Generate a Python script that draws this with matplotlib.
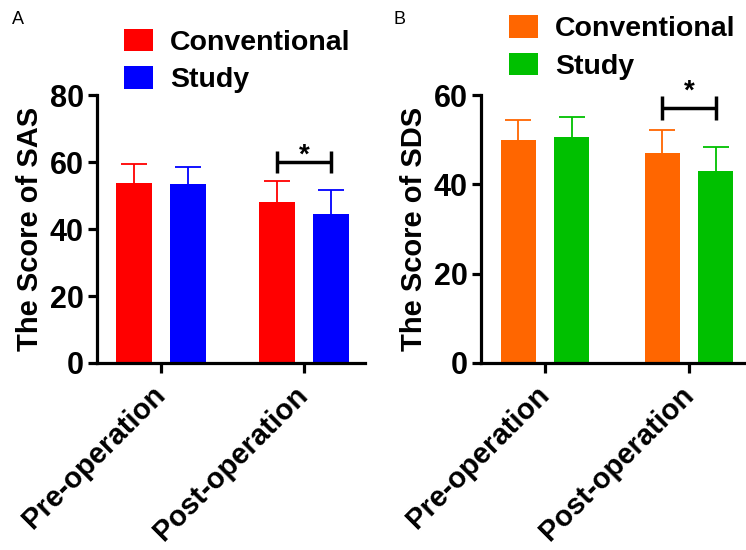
#!/usr/bin/env python3
"""SAS / SDS scores before and after operation, conventional vs study group."""

import matplotlib
matplotlib.use("Agg")
import matplotlib.pyplot as plt
import numpy as np

plt.rcParams["font.family"] = ["Liberation Sans", "DejaVu Sans"]
plt.rcParams["font.weight"] = "bold"

groups = ["Pre-operation", "Post-operation"]
series = ["Conventional", "Study"]

sas_conv = [53.7, 48.1]
sas_conv_sd = [5.7, 6.2]
sas_study = [53.4, 44.5]
sas_study_sd = [5.1, 7.1]

sds_conv = [50.0, 47.1]
sds_conv_sd = [4.5, 5.2]
sds_study = [50.6, 42.9]
sds_study_sd = [4.6, 5.5]

colors_a = ["#ff0000", "#0000ff"]
colors_b = ["#ff6600", "#00c000"]


def draw_panel(ax, means, sds, colors, ymax, ylabel, xlim, width, offset,
               bracket_y, bracket_h, star_y):
    x = np.arange(len(groups))
    for i, (m, s, c) in enumerate(zip(means, sds, colors)):
        pos = x + (i - 0.5) * 2 * offset
        top = np.array(m) + np.array(s)
        ax.bar(pos, m, width, color=c, label=series[i], zorder=2)
        # upper error bar only: stem + cap
        ax.vlines(pos, m, top, colors=c, lw=1.3, zorder=1)
        ax.plot(pos, top, linestyle="none", marker="_", markersize=19,
                markeredgewidth=1.3, color=c, zorder=1)
    # significance bracket on post-operation
    x0, x1 = 1 - offset, 1 + offset
    ax.plot([x0, x1], [bracket_y, bracket_y], color="black", lw=2.5, solid_capstyle="butt")
    for xe in (x0, x1):
        ax.plot([xe, xe], [bracket_y - bracket_h, bracket_y + bracket_h], color="black",
                lw=2.5, solid_capstyle="butt")
    ax.text(1, star_y, "*", ha="center", va="center", fontsize=20, fontweight="bold",
            clip_on=False)

    ax.set_xlim(*xlim)
    ax.set_ylim(0, ymax)
    ax.set_yticks(np.arange(0, ymax + 1, 20))
    ax.set_xticks(x)
    ax.set_xticklabels(groups, rotation=45, ha="right", va="center",
                       rotation_mode="anchor", fontsize=21, fontweight="bold")
    ax.set_ylabel(ylabel, fontsize=21, fontweight="bold", labelpad=4)
    for side in ("top", "right"):
        ax.spines[side].set_visible(False)
    for side in ("left", "bottom"):
        ax.spines[side].set_linewidth(2.3)
    ax.tick_params(axis="y", length=6.5, width=2.3, pad=3, labelsize=22)
    ax.tick_params(axis="x", length=7, width=2.3, pad=13)


fig = plt.figure(figsize=(7.46, 5.5), dpi=100)
ax_a = fig.add_axes([0.130, 0.340, 0.359, 0.487])
ax_b = fig.add_axes([0.645, 0.340, 0.355, 0.487])

draw_panel(ax_a, [sas_conv, sas_study], [sas_conv_sd, sas_study_sd], colors_a, 80,
           "The Score of SAS", (-0.448, 1.427), 0.252, 0.189, 60, 3.4, 61.8)
draw_panel(ax_b, [sds_conv, sds_study], [sds_conv_sd, sds_study_sd], colors_b, 60,
           "The Score of SDS", (-0.444, 1.396), 0.243, 0.186, 57.1, 2.6, 60.7)

for ax, anchor in ((ax_a, (0.166, 0.947)), (ax_b, (0.682, 0.972))):
    ax.legend(loc="upper left", bbox_to_anchor=anchor, bbox_transform=fig.transFigure,
              frameon=False, fontsize=20.5, handlelength=1.02, handleheight=0.82,
              handletextpad=0.6, labelspacing=0.36, borderpad=0, borderaxespad=0)

fig.text(0.016, 0.965, "A", fontsize=13, fontweight="normal", va="center")
fig.text(0.527, 0.965, "B", fontsize=13, fontweight="normal", va="center")

fig.savefig("out.png", dpi=100)
